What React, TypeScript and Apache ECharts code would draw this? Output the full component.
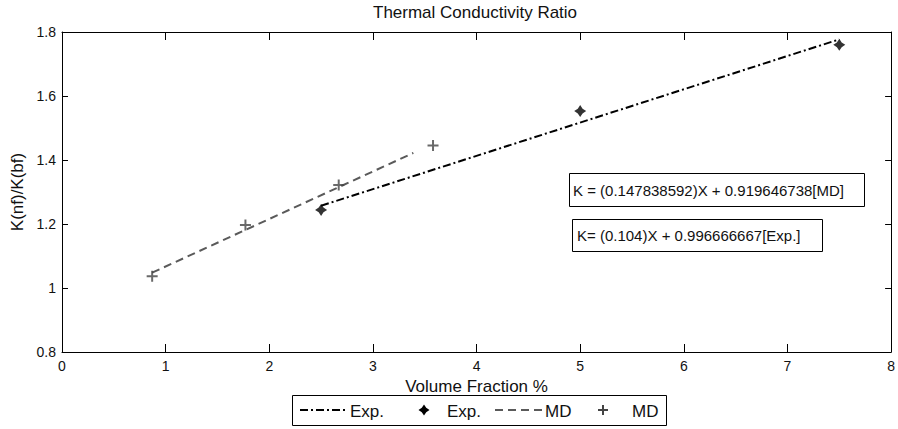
import React, { useEffect, useRef } from "react";
import * as echarts from "echarts";

// ---- Data ----
const expFitX = [2.5, 7.5];
const expFitY = [1.257, 1.777];
const expPointsX = [2.5, 5, 7.5];
const expPointsY = [1.244, 1.553, 1.76];
const mdFitX = [0.87, 3.39];
const mdFitY = [1.048, 1.422];
const mdPointsX = [0.87, 1.77, 2.67, 3.58];
const mdPointsY = [1.037, 1.197, 1.322, 1.445];

const titleText = "Thermal Conductivity Ratio";
const xAxisName = "Volume Fraction %";
const yAxisName = "K(nf)/K(bf)";
const legendLabels = ["Exp.", "Exp.", "MD", "MD"];
const mdEquation = "K = (0.147838592)X + 0.919646738[MD]";
const expEquation = "K= (0.104)X + 0.996666667[Exp.]";

const xMin = 0;
const xMax = 8;
const xStep = 1;
const yMin = 0.8;
const yMax = 1.8;
const yStep = 0.2;

const FONT = "'Liberation Sans', Arial, Helvetica, sans-serif";
const STAR_PATH =
  "path://M5 0 L7 3 L10 5 L7 7 L5 10 L3 7 L0 5 L3 3 Z";
const PLUS_PATH =
  "path://M4.1 0 H5.9 V4.1 H10 V5.9 H5.9 V10 H4.1 V5.9 H0 V4.1 H4.1 Z";

const zip = (xs: number[], ys: number[]) => xs.map((x, i) => [x, ys[i]]);

export default function App() {
  const ref = useRef<HTMLDivElement>(null);

  useEffect(() => {
    if (!ref.current) return;
    const chart = echarts.init(ref.current, undefined, { renderer: "svg" });

    const axisCommon = {
      axisLine: { show: true, onZero: false, lineStyle: { color: "#000", width: 1 } },
      splitLine: { show: false },
    };

    const legendY = 410;
    const textStyle = (text: string, x: number, y: number, size: number) => ({
      type: "text",
      x,
      y,
      style: {
        text,
        fill: "#111",
        font: `${size}px ${FONT}`,
        verticalAlign: "middle",
        align: "left",
      },
    });

    chart.setOption({
      animation: false,
      backgroundColor: "#fff",
      title: {
        text: titleText,
        left: 373,
        top: 4,
        padding: 0,
        textStyle: { fontFamily: FONT, fontSize: 17, fontWeight: "normal", color: "#111" },
      },
      grid: { left: 62, right: 4, top: 32, bottom: 77, containLabel: false },
      xAxis: [
        {
          ...axisCommon,
          type: "value",
          min: xMin,
          max: xMax,
          interval: xStep,
          position: "bottom",
          name: xAxisName,
          nameLocation: "middle",
          nameGap: 23,
          nameTextStyle: { fontFamily: FONT, fontSize: 17, color: "#111" },
          axisTick: { show: true, inside: true, length: 8, lineStyle: { color: "#000" } },
          axisLabel: { fontFamily: FONT, fontSize: 14, color: "#111", margin: 7 },
        },
        {
          ...axisCommon,
          type: "value",
          min: xMin,
          max: xMax,
          interval: xStep,
          position: "top",
          axisTick: { show: true, inside: true, length: 8, lineStyle: { color: "#000" } },
          axisLabel: { show: false },
        },
      ],
      yAxis: [
        {
          ...axisCommon,
          type: "value",
          min: yMin,
          max: yMax,
          interval: yStep,
          position: "left",
          name: yAxisName,
          nameLocation: "middle",
          nameRotate: 90,
          nameGap: 36,
          nameTextStyle: { fontFamily: FONT, fontSize: 17, color: "#111" },
          axisTick: { show: true, inside: true, length: 6, lineStyle: { color: "#000" } },
          axisLabel: { fontFamily: FONT, fontSize: 14, color: "#111", margin: 6 },
        },
        {
          ...axisCommon,
          type: "value",
          min: yMin,
          max: yMax,
          interval: yStep,
          position: "right",
          axisTick: { show: true, inside: true, length: 6, lineStyle: { color: "#000" } },
          axisLabel: { show: false },
        },
      ],
      series: [
        {
          name: "Exp. fit",
          type: "line",
          data: zip(expFitX, expFitY),
          showSymbol: false,
          symbol: "none",
          lineStyle: { color: "#000", width: 2, type: [8, 3, 2, 3] },
          z: 2,
        },
        {
          name: "Exp. data",
          type: "scatter",
          data: zip(expPointsX, expPointsY),
          symbol: STAR_PATH,
          symbolSize: 12,
          itemStyle: { color: "#000" },
          z: 3,
        },
        {
          name: "MD fit",
          type: "line",
          data: zip(mdFitX, mdFitY),
          showSymbol: false,
          symbol: "none",
          lineStyle: { color: "#5a5a5a", width: 2, type: [8, 5] },
          z: 2,
        },
        {
          name: "MD data",
          type: "scatter",
          data: zip(mdPointsX, mdPointsY),
          symbol: PLUS_PATH,
          symbolSize: 11,
          itemStyle: { color: "#444" },
          z: 3,
        },
      ],
      graphic: [
        // Equation boxes
        {
          type: "rect",
          shape: { x: 569.5, y: 173.5, width: 295, height: 33 },
          style: { fill: "#fff", stroke: "#000", lineWidth: 1 },
          z: 10,
        },
        { ...textStyle(mdEquation, 573, 190, 15), z: 11 },
        {
          type: "rect",
          shape: { x: 572.5, y: 219.5, width: 250, height: 32 },
          style: { fill: "#fff", stroke: "#000", lineWidth: 1 },
          z: 10,
        },
        { ...textStyle(expEquation, 577, 235, 15), z: 11 },
        // Legend
        {
          type: "rect",
          shape: { x: 292.5, y: 395.5, width: 374, height: 30 },
          style: { fill: "#fff", stroke: "#000", lineWidth: 1 },
          z: 10,
        },
        {
          type: "line",
          shape: { x1: 300, y1: legendY, x2: 348, y2: legendY },
          style: { stroke: "#000", lineWidth: 2, lineDash: [8, 3, 2, 3] },
          z: 11,
        },
        { ...textStyle(legendLabels[0], 350, legendY + 1, 17), z: 11 },
        {
          type: "polygon",
          shape: {
            points: [
              [424, 404.5], [426.2, 407.8], [429.5, 410], [426.2, 412.2],
              [424, 415.5], [421.8, 412.2], [418.5, 410], [421.8, 407.8],
            ],
          },
          style: { fill: "#000" },
          z: 11,
        },
        { ...textStyle(legendLabels[1], 447, legendY + 1, 17), z: 11 },
        {
          type: "line",
          shape: { x1: 495, y1: legendY, x2: 542, y2: legendY },
          style: { stroke: "#5a5a5a", lineWidth: 2, lineDash: [8, 5] },
          z: 11,
        },
        { ...textStyle(legendLabels[2], 545, legendY + 1, 17), z: 11 },
        {
          type: "line",
          shape: { x1: 598, y1: legendY, x2: 608, y2: legendY },
          style: { stroke: "#444", lineWidth: 2 },
          z: 11,
        },
        {
          type: "line",
          shape: { x1: 603, y1: legendY - 5, x2: 603, y2: legendY + 5 },
          style: { stroke: "#444", lineWidth: 2 },
          z: 11,
        },
        { ...textStyle(legendLabels[3], 632, legendY + 1, 17), z: 11 },
      ],
    });

    return () => chart.dispose();
  }, []);

  return (
    <div
      ref={ref}
      style={{ position: "fixed", left: 0, top: 0, width: 898, height: 429 }}
    />
  );
}
